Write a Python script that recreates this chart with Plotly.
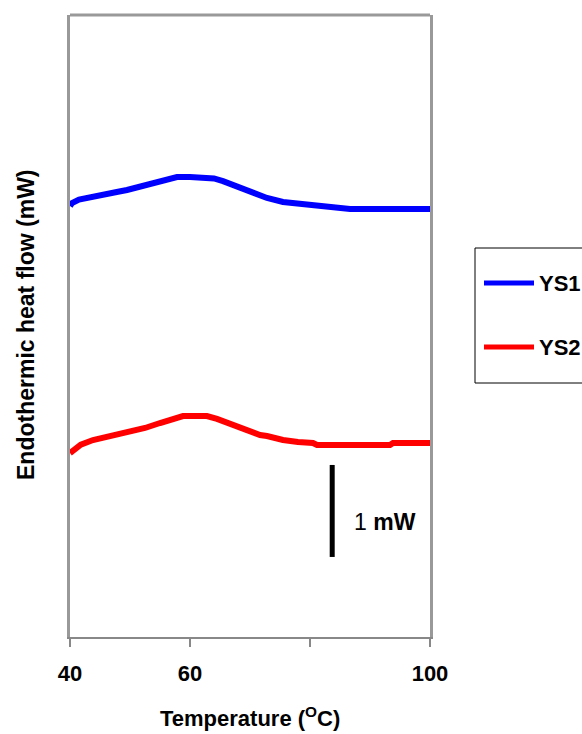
import plotly.graph_objects as go

# ---- data (temperature in °C, heat flow in mW, arbitrary offset) ----
T_YS1 = [40.0, 40.33, 41.5, 43.33, 45.0, 46.67, 48.0, 49.5, 51.5, 53.33, 55.0, 56.5, 57.83,
         60.0, 62.83, 64.0, 65.5, 67.17, 69.0, 71.17, 72.83, 75.5, 78.33, 81.67,
         86.67, 100.0]
HF_YS1 = [4.685, 4.717, 4.755, 4.783, 4.805, 4.826, 4.840, 4.859, 4.895, 4.935, 4.965,
          4.988, 5.0, 5.0, 5.0, 4.985, 4.955, 4.913, 4.858, 4.804, 4.772, 4.728,
          4.707, 4.674, 4.652, 4.652]

T_YS2 = [40.0, 40.33, 41.8, 43.83, 46.5, 49.5, 52.5, 55.0, 57.0, 58.83, 60.5, 62.83,
         64.5, 67.17, 69.5, 71.67, 72.83, 75.5, 78.0, 80.5, 81.17, 93.33, 93.83, 100.0]
HF_YS2 = [2.0, 2.02, 2.09, 2.141, 2.178, 2.217, 2.272, 2.326, 2.370, 2.402, 2.402,
          2.402, 2.370, 2.304, 2.245, 2.196, 2.185, 2.141, 2.120, 2.109, 2.087,
          2.087, 2.109, 2.109]

SCALE_BAR_T = [83.7, 83.7]
SCALE_BAR_HF = [0.87, 1.87]
SCALE_LABEL = "1 <b>mW</b>"

X_TICKS = [40, 60, 100]
X_TICK_TEXT = ["40", "60", "100"]

SERIES_NAMES = ["YS1", "YS2"]
SERIES_COLORS = ["#0000FF", "#FF0000"]

FONT = "Arial, Liberation Sans, sans-serif"

fig = go.Figure()
for name, xs, ys, col in zip(SERIES_NAMES, [T_YS1, T_YS2], [HF_YS1, HF_YS2], SERIES_COLORS):
    fig.add_trace(go.Scatter(x=xs, y=ys, mode="lines", name=name,
                             line=dict(color=col, width=6), showlegend=False))

fig.add_trace(go.Scatter(x=SCALE_BAR_T, y=SCALE_BAR_HF, mode="lines",
                         line=dict(color="black", width=5), showlegend=False,
                         hoverinfo="skip"))

# plot area: x 70..430, y 15..637
W, H = 582, 734
L, R, Tm, B = 70, 152, 15, 97
pw, ph = W - L - R, H - Tm - B

def px(xp):
    return (xp - L) / pw

def py(yp):
    return (H - B - yp) / ph

fig.update_layout(
    width=W, height=H,
    margin=dict(l=L, r=R, t=Tm, b=B),
    paper_bgcolor="white", plot_bgcolor="white",
    font=dict(family=FONT, color="black", size=22),
    xaxis=dict(range=[40, 100], tickvals=X_TICKS, ticktext=X_TICK_TEXT,
               showgrid=False, zeroline=False, showline=True,
               linecolor="#888888", linewidth=2, ticks="outside", ticklen=8,
               tickcolor="#888888", tickwidth=1.5, ticklabelstandoff=8,
               minor=dict(dtick=20, tick0=40, ticks="outside", ticklen=8,
                          tickcolor="#888888", tickwidth=1.5, showgrid=False),
               tickfont=dict(family=FONT, size=22, weight="bold", color="black")),
    yaxis=dict(range=[0, 622 / 92], showgrid=False, zeroline=False,
               showticklabels=False, ticks="", showline=True, mirror=True,
               linecolor="#999999", linewidth=3),
)

# top border
fig.add_shape(type="line", xref="paper", yref="paper", x0=0, x1=1, y0=1, y1=1,
              line=dict(color="#999999", width=3))

# scale label
fig.add_annotation(x=87.0, y=1.25, xref="x", yref="y", text=SCALE_LABEL,
                   showarrow=False, xanchor="left", yanchor="middle",
                   font=dict(family=FONT, size=23, color="black"))

# axis titles
fig.add_annotation(x=px(250), y=py(717), xref="paper", yref="paper",
                   text="<b>Temperature (<sup>O</sup>C)</b>", showarrow=False,
                   xanchor="center", yanchor="middle",
                   font=dict(family=FONT, size=22, color="black"))
fig.add_annotation(x=px(26), y=py(325), xref="paper", yref="paper",
                   text="<b>Endothermic heat flow (mW)</b>", showarrow=False,
                   textangle=-90, xanchor="center", yanchor="middle",
                   font=dict(family=FONT, size=23, color="black"))

# manual legend
fig.add_shape(type="rect", xref="paper", yref="paper",
              x0=px(475), x1=px(600), y0=py(383), y1=py(248),
              line=dict(color="black", width=1), fillcolor="white", layer="below")
for i, (name, col) in enumerate(zip(SERIES_NAMES, SERIES_COLORS)):
    yy = [283, 347][i]
    fig.add_shape(type="line", xref="paper", yref="paper",
                  x0=px(484), x1=px(534), y0=py(yy), y1=py(yy),
                  line=dict(color=col, width=5))
    fig.add_annotation(x=px(537), y=py(yy), xref="paper", yref="paper",
                       text=f"<b>{name}</b>", showarrow=False,
                       xanchor="left", yanchor="middle",
                       font=dict(family=FONT, size=22, color="black"))

fig.write_html("out.html")
